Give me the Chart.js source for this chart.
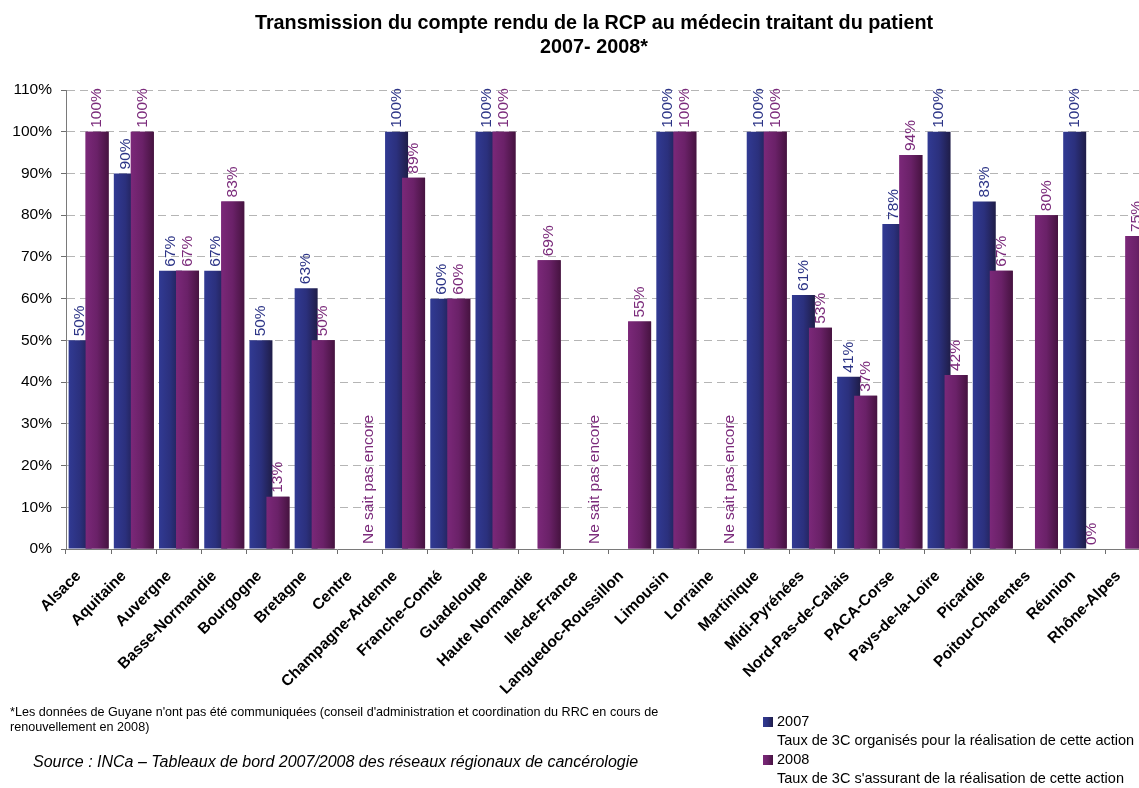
<!DOCTYPE html>
<html><head><meta charset="utf-8">
<script src="https://cdn.jsdelivr.net/npm/chart.js@4.4.1/dist/chart.umd.min.js"></script>
<style>
html,body{margin:0;padding:0;background:#fff;overflow:hidden;}
#wrap{position:relative;width:1188px;height:788px;}
canvas{display:block;}
.t{position:absolute;font-family:"Liberation Sans",Arial,sans-serif;color:#000;white-space:nowrap;}
.sq{position:absolute;width:10px;height:10px;}
</style></head><body>
<div id="wrap">
<canvas id="c" width="1188" height="788"></canvas>
<div class="t" style="left:10px;top:705px;font-size:12.6px;line-height:14.5px;">*Les données de Guyane n'ont pas été communiquées (conseil d'administration et coordination du RRC en cours de<br>renouvellement en 2008)</div>
<div class="t" style="left:33px;top:752px;font-size:16px;font-style:italic;line-height:19px;">Source : INCa – Tableaux de bord 2007/2008 des réseaux régionaux de cancérologie</div>
<div id="legend"></div>
</div>
<script>
// ---- data ----
const categories = ['Alsace','Aquitaine','Auvergne','Basse-Normandie','Bourgogne','Bretagne','Centre','Champagne-Ardenne','Franche-Comté','Guadeloupe','Haute Normandie','Ile-de-France','Languedoc-Roussillon','Limousin','Lorraine','Martinique','Midi-Pyrénées','Nord-Pas-de-Calais','PACA-Corse','Pays-de-la-Loire','Picardie','Poitou-Charentes','Réunion','Rhône-Alpes'];
const values2007 = [50, 90, 66.7, 66.7, 50, 62.5, null, 100, 60, 100, null, null, null, 100, null, 100, 60.9, 41.3, 77.9, 100, 83.3, null, 100, null];
const values2008 = [100, 100, 66.7, 83.3, 12.5, 50, null, 89, 60, 100, 69.2, null, 54.5, 100, null, 100, 53, 36.7, 94.4, 41.7, 66.7, 80, 0, 75];
const notes2008 = ['', '', '', '', '', '', 'Ne sait pas encore', '', '', '', '', 'Ne sait pas encore', '', '', 'Ne sait pas encore', '', '', '', '', '', '', '', '', ''];
const yTicks = [0, 10, 20, 30, 40, 50, 60, 70, 80, 90, 100, 110];
const seriesNames = ['2007', '2008'];
const seriesDescriptions = ['Taux de 3C organisés pour la réalisation de cette action', "Taux de 3C s'assurant de la réalisation de cette action"];
const titleLines = ['Transmission du compte rendu de la RCP au médecin traitant du patient', '2007- 2008*'];

// ---- styles ----
const FONT = '"Liberation Sans", Arial, sans-serif';
const CAT_PCT = 0.752, BAR_PCT = 1.353;
const barColors = [['#313a93', '#2b307d', '#1f1d48'], ['#7b2879', '#6a2168', '#461340']];
const labelColors = ['#2d3587', '#7b2b7b'];

function gradFor(di) {
  return (ctx) => {
    const chart = ctx.chart, xs = chart.scales && chart.scales.x;
    const cols = barColors[di];
    if (!xs || ctx.dataIndex === undefined || ctx.dataIndex === null) return cols[1];
    const p0 = xs.getPixelForValue(0), p1 = xs.getPixelForValue(1);
    const cat = p1 - p0;
    const slot = cat * CAT_PCT / 2, w = slot * BAR_PCT;
    const c = xs.getPixelForValue(ctx.dataIndex) + (di === 0 ? -slot / 2 : slot / 2);
    if (!isFinite(c) || !isFinite(w) || w <= 0) return cols[1];
    const g = chart.ctx.createLinearGradient(c - w / 2, 0, c + w / 2, 0);
    cols.forEach((col, k) => g.addColorStop(k / (cols.length - 1), col));
    return g;
  };
}

const overlayPlugin = {
  id: 'overlay',
  afterDatasetsDraw(chart) {
    // purple bars overlap blue ones (drawn on top)
    chart.getDatasetMeta(1).controller.draw();
    const c = chart.ctx, xs = chart.scales.x, ys = chart.scales.y;
    const cat = xs.getPixelForValue(1) - xs.getPixelForValue(0);
    const slot = cat * CAT_PCT / 2;
    c.save();
    c.font = '15.5px ' + FONT;
    c.textAlign = 'left';
    c.textBaseline = 'middle';
    chart.data.datasets.forEach((ds, di) => {
      ds.data.forEach((v, i) => {
        if (v === null || v === undefined) return;
        const x = xs.getPixelForValue(i) + (di === 0 ? -slot / 2 : slot / 2);
        const y = ys.getPixelForValue(v) - 4;
        c.fillStyle = labelColors[di];
        c.save(); c.translate(x, y); c.rotate(-Math.PI / 2);
        c.fillText(Math.round(v) + '%', 0, 0);
        c.restore();
      });
    });
    notes2008.forEach((n, i) => {
      if (!n) return;
      const x = xs.getPixelForValue(i) + slot / 2;
      const y = ys.getPixelForValue(0) - 5;
      c.fillStyle = labelColors[1];
      c.save(); c.translate(x, y); c.rotate(-Math.PI / 2);
      c.fillText(n, 0, 0);
      c.restore();
    });
    c.restore();
  }
};

new Chart(document.getElementById('c'), {
  type: 'bar',
  data: {
    labels: categories,
    datasets: [
      { label: seriesNames[0], data: values2007, backgroundColor: gradFor(0), categoryPercentage: CAT_PCT, barPercentage: BAR_PCT },
      { label: seriesNames[1], data: values2008, backgroundColor: gradFor(1), categoryPercentage: CAT_PCT, barPercentage: BAR_PCT }
    ]
  },
  options: {
    responsive: false,
    animation: false,
    events: [],
    layout: { padding: { left: 0, right: 0, top: 0, bottom: 0 } },
    plugins: {
      legend: { display: false },
      tooltip: { enabled: false },
      title: {
        display: true,
        text: titleLines,
        color: '#000',
        font: { family: FONT, size: 19.8, weight: 'bold', lineHeight: 1.2 },
        padding: { top: 12, bottom: 30.5 }
      }
    },
    scales: {
      x: {
        offset: true,
        grid: { display: true, drawOnChartArea: false, drawTicks: true, tickLength: 5, tickColor: '#6e6e6e', offset: true },
        border: { display: true, color: '#7a7a7a', width: 1 },
        ticks: { autoSkip: false, minRotation: 45, maxRotation: 45, padding: 13, labelOffset: -10, color: '#000', font: { family: FONT, size: 15.5, weight: 'bold' } },
        afterFit: (s) => { s.height = 239; }
      },
      y: {
        min: 0, max: 110,
        afterBuildTicks: (s) => { s.ticks = yTicks.map(v => ({ value: v })); },
        grid: { color: '#b5b5b5', lineWidth: 1, tickLength: 5, tickColor: '#6e6e6e', drawTicks: true },
        border: { display: true, color: '#7a7a7a', width: 1, dash: [8, 5] },
        ticks: { padding: 9, color: '#000', font: { family: FONT, size: 15.5 }, callback: (v) => v + '%' },
        afterFit: (s) => { s.width = 66; }
      },
      spacer: {
        type: 'linear',
        position: 'right',
        display: true,
        grid: { display: false, drawTicks: false },
        border: { display: false },
        ticks: { display: false },
        afterFit: (s) => { s.width = 37; }
      }
    }
  },
  plugins: [overlayPlugin]
});

// legend (HTML)
const lg = document.getElementById('legend');
const legendTops = [712, 750];
seriesNames.forEach((name, i) => {
  const top = legendTops[i];
  const cols = barColors[i];
  lg.insertAdjacentHTML('beforeend',
    `<div class="sq" style="left:763px;top:${top + 5}px;background:linear-gradient(to right, ${cols.join(',')});"></div>` +
    `<div class="t" style="left:777px;top:${top}px;font-size:14.5px;line-height:19px;">${name}<br>${seriesDescriptions[i]}</div>`);
});
</script>
</body></html>
